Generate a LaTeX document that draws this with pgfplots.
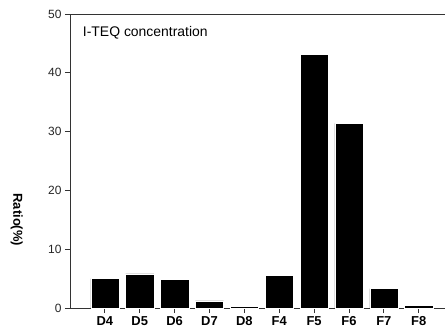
\documentclass[border=0pt]{standalone}
\usepackage{pgfplots}
\pgfplotsset{compat=1.18}
\usepackage{fontspec}
\setmainfont{Liberation Sans}
\begin{document}
\begin{tikzpicture}
\useasboundingbox (0,0) rectangle (445bp,327bp);
\begin{axis}[
  scale only axis,
  width=377bp, height=294bp,
  at={(70bp,19bp)}, anchor=south west,
  xmin=-1, xmax=9.81, ymin=0, ymax=50,
  ybar, bar width=0.81,
  xtick={0,1,2,3,4,5,6,7,8,9},
  xticklabels={D4,D5,D6,D7,D8,F4,F5,F6,F7,F8},
  ytick={0,10,20,30,40,50},
  tick align=outside,
  xtick pos=bottom, ytick pos=left,
  major tick length=5bp,
  /pgf/number format/assume math mode=true,
  yticklabel style={font=\fontsize{12}{12}\selectfont, color=black!85},
  xticklabel style={font=\bfseries\fontsize{13}{13}\selectfont},
  ylabel={Ratio(\%)},
  every axis y label/.style={at={(axis description cs:-0.141,0.30)}, rotate=-90, anchor=center, font=\bfseries\fontsize{13}{13}\selectfont},
  axis line style={black!80, line width=0.8pt},
  tick style={black!80, line width=0.8pt},
  clip=false,
]
\addplot[fill=black, draw=white, line width=0.4pt] coordinates {
 (0,5.0) (1,5.8) (2,4.9) (3,1.2) (4,0.25) (5,5.6) (6,43.1) (7,31.4) (8,3.3) (9,0.45)
};
\node[anchor=west, font=\fontsize{14}{14}\selectfont] at (rel axis cs:0.025,0.935) {I-TEQ concentration};
\end{axis}
\end{tikzpicture}
\end{document}
